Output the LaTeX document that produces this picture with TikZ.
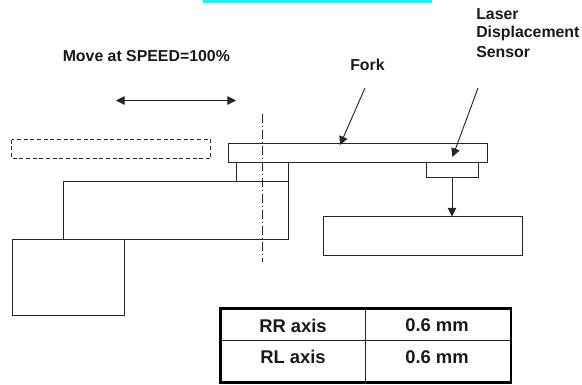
\documentclass[tikz,border=0pt]{standalone}
\usepackage{fontspec}
\setmainfont{Liberation Sans}
\usetikzlibrary{arrows.meta}
\definecolor{purecyan}{rgb}{0,1,1}
\tikzset{
  box/.style={draw=black!85,line width=0.7pt,fill=none},
  lbl/.style={font=\bfseries\fontsize{11.9pt}{14pt}\selectfont,inner sep=0pt,text=black!90},
  cell/.style={font=\bfseries\fontsize{13.8pt}{16pt}\selectfont,inner sep=0pt,text=black!90},
  arr/.style={draw=black!85,line width=0.7pt,-{Triangle[length=6.5pt,width=6.5pt]}},
  darr/.style={draw=black!85,line width=0.7pt,{Triangle[length=6.5pt,width=6.5pt]}-{Triangle[length=6.5pt,width=6.5pt]}}
}
\begin{document}
\begin{tikzpicture}[x=0.75pt,y=-0.75pt]
\useasboundingbox (0,0) rectangle (582,385);
\fill[purecyan] (203,0) rectangle (432,3);
% mechanism
\draw[box,dashed,dash pattern=on 3pt off 2pt] (11.5,139.5) rectangle (210.5,158.5);
\draw[box] (236.5,162.5) rectangle (288,181);
\draw[box] (63.5,181.5) rectangle (288,239.5);
\draw[box] (12,239.5) rectangle (124.5,315);
\draw[box] (228,143.5) rectangle (487,162.5);
\draw[box] (426,162.5) rectangle (478,177.5);
\draw[box] (323,216.5) rectangle (522,255);
\coordinate (sensorb) at (452,177.5);
\coordinate (targett) at (452,216.5);
\draw[arr] (sensorb) -- (targett);
\coordinate (cl1) at (262.5,114);
\coordinate (cl2) at (262.5,262);
\draw[draw=black!85,line width=0.6pt,dash pattern=on 7pt off 2pt on 1pt off 2pt] (cl1) -- (cl2);
\coordinate (mv1) at (116,100.5);
\coordinate (mv2) at (236,100.5);
\draw[darr] (mv1) -- (mv2);
% labels
\node[lbl,anchor=west] (move) at (62.5,56.5) {Move at SPEED=100\%};
\node[lbl,anchor=west] (fork) at (350,64.5) {Fork};
\node[lbl,anchor=west] (l1) at (476,14) {Laser};
\node[lbl,anchor=west] (l2) at (476,33) {Displacement};
\node[lbl,anchor=west] (l3) at (476,52) {Sensor};
\coordinate (fk1) at (365,88);
\coordinate (fk2) at (340,145);
\draw[arr] (fk1) -- (fk2);
\coordinate (ls1) at (478,88);
\coordinate (ls2) at (452.5,157);
\draw[arr] (ls1) -- (ls2);
% table
\draw[draw=black,line width=1.7pt] (220.5,308.5) rectangle (511,382.5);
\draw[draw=black!85,line width=0.7pt] (220.5,340.5) -- (511,340.5);
\draw[draw=black!85,line width=0.7pt] (365,308.5) -- (365,382.5);
\node[cell] (rr) at (293,325.5) {RR axis};
\node[cell] (rrv) at (437,325.5) {0.6 mm};
\node[cell] (rl) at (293,357) {RL axis};
\node[cell] (rlv) at (437,357) {0.6 mm};
\end{tikzpicture}
\end{document}
